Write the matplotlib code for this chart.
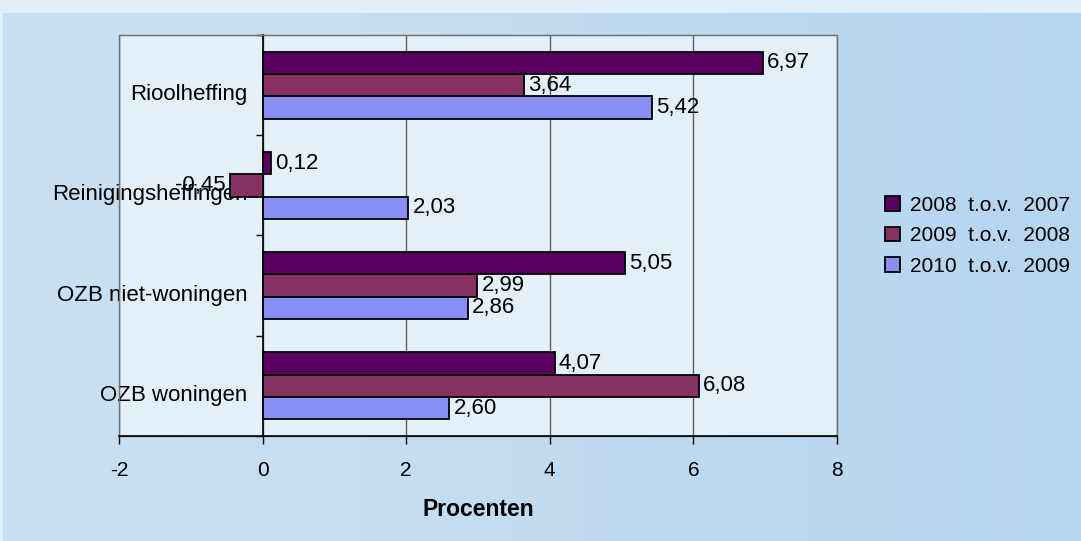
import matplotlib.pyplot as plt
import numpy as np
from matplotlib.colors import LinearSegmentedColormap
from matplotlib.patches import Rectangle
from matplotlib.transforms import ScaledTranslation

plt.rcParams["font.family"] = ["Liberation Sans", "DejaVu Sans"]

categories = ["OZB woningen", "OZB niet-woningen", "Reinigingsheffingen", "Rioolheffing"]
series_names = ["2008  t.o.v.  2007", "2009  t.o.v.  2008", "2010  t.o.v.  2009"]
s2008 = [4.07, 5.05, 0.12, 6.97]
s2009 = [6.08, 2.99, -0.45, 3.64]
s2010 = [2.60, 2.86, 2.03, 5.42]
colors = ["#5a0060", "#873062", "#8890f6"]
x_ticks = [-2, 0, 2, 4, 6, 8]

fig = plt.figure(figsize=(10.81, 5.41), dpi=100)
fig.patch.set_facecolor("#dfeef8")

# background panel with soft gradient
bg = fig.add_axes([3 / 1081, 0, 1 - 3 / 1081, 528 / 541], zorder=-1)
grad = np.linspace(0, 1, 256).reshape(1, -1)
cmap = LinearSegmentedColormap.from_list("bg", ["#c9e0f3", "#c6def2", "#bcd9f0", "#b6d5ef"])
bg.imshow(grad, aspect="auto", cmap=cmap, extent=[0, 1, 0, 1])
bg.set_axis_off()

ax = fig.add_axes([119 / 1081, 105 / 541, 718 / 1081, 401 / 541])
ax.set_facecolor("#e3f0f9")

y = np.arange(len(categories))
h = 0.222
for vals, off, name, c in zip([s2008, s2009, s2010], [h, 0, -h], series_names, colors):
    bars = ax.barh(y + off, vals, height=h, color=c, edgecolor="black", linewidth=1.3,
                   label=name, zorder=3)
    ax.bar_label(bars, labels=[f"{v:.2f}".replace(".", ",") for v in vals],
                 padding=3, fontsize=16, zorder=4)

ax.set_xlim(-2, 8)
ax.set_ylim(-0.5, 3.5)
ax.set_xticks(x_ticks)
ax.set_xticklabels([str(t) for t in x_ticks])
ax.tick_params(axis="x", direction="out", length=6, width=1, labelsize=15, pad=12)
ax.xaxis.grid(True, color="#606060", linewidth=1)
ax.set_axisbelow(True)

ax.spines["left"].set_position(("data", 0))
ax.spines["left"].set_linewidth(1.2)
ax.spines["bottom"].set_linewidth(1.2)
for s in ["top", "right"]:
    ax.spines[s].set_color("#707070")
ax.add_patch(Rectangle((0, 0), 1, 1, transform=ax.transAxes, fill=False,
                       edgecolor="#707070", linewidth=1, zorder=1, clip_on=False))

ax.set_yticks([-0.5, 0.5, 1.5, 2.5, 3.5])
ax.set_yticklabels([])
ax.tick_params(axis="y", which="major", direction="out", length=5, width=1)
ax.set_yticks(y, minor=True)
ax.set_yticklabels(categories, minor=True)
ax.tick_params(axis="y", which="minor", length=0, labelsize=16, pad=11)
for lab in ax.get_yticklabels(minor=True):
    lab.set_transform(lab.get_transform() + ScaledTranslation(0, -7 / 100, fig.dpi_scale_trans))

ax.set_xlabel("Procenten", fontsize=16.5, fontweight="bold", labelpad=13)

fig.legend(loc="center left", bbox_to_anchor=(885 / 1081, 1 - 236 / 541), frameon=False,
           fontsize=15, handlelength=0.7, handleheight=0.7, handletextpad=0.5,
           labelspacing=0.55, borderpad=0, borderaxespad=0)

fig.savefig("out.png", dpi=100, facecolor=fig.get_facecolor())
